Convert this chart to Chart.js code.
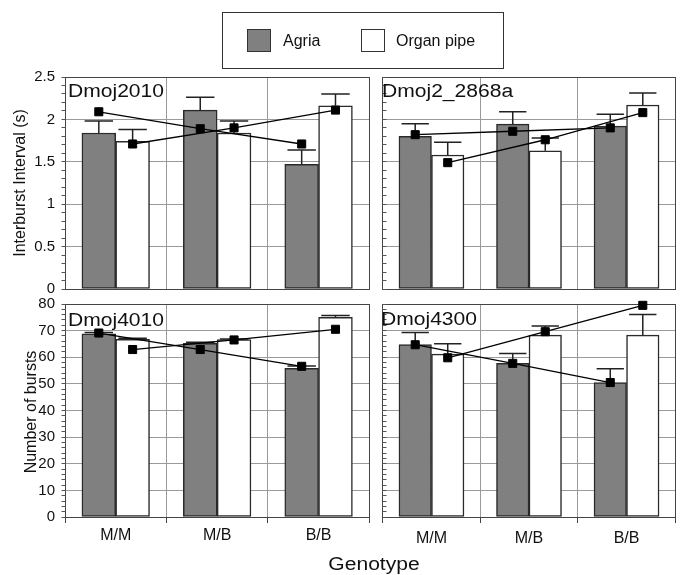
<!DOCTYPE html>
<html><head><meta charset="utf-8">
<script src="https://cdn.jsdelivr.net/npm/chart.js@4.4.1/dist/chart.umd.min.js"></script>
<style>
html,body{margin:0;padding:0;background:#fff;}
#wrap{position:relative;width:682px;height:575px;overflow:hidden;font-family:"Liberation Sans",Arial,sans-serif;color:#111;}
canvas{position:absolute;}
.t{position:absolute;white-space:nowrap;}
.rt{position:absolute;white-space:nowrap;font-size:16px;line-height:16px;transform:translate(-50%,-50%) rotate(-90deg);}
.pl{position:absolute;white-space:nowrap;font-size:18px;line-height:18px;transform-origin:0 0;transform:scaleX(1.17);}
</style></head><body>
<div id="wrap">
  <canvas id="c1" width="376" height="250" style="left:0;top:58px"></canvas>
  <canvas id="c2" width="306" height="250" style="left:376px;top:58px"></canvas>
  <canvas id="c3" width="376" height="290" style="left:0;top:285px"></canvas>
  <canvas id="c4" width="306" height="290" style="left:376px;top:285px"></canvas>

  <div style="position:absolute;left:222px;top:12px;width:282px;height:57px;box-sizing:border-box;border:1px solid #333;"></div>
  <div style="position:absolute;left:247px;top:29px;width:24px;height:23px;box-sizing:border-box;border:1px solid #333;background:#808080;"></div>
  <div style="position:absolute;left:361px;top:29px;width:24px;height:23px;box-sizing:border-box;border:1px solid #333;background:#fff;"></div>
  <div class="t" id="lg1" style="left:283px;top:33.2px;font-size:16px;line-height:16px;"></div>
  <div class="t" id="lg2" style="left:396px;top:33.2px;font-size:16px;line-height:16px;"></div>

  <div class="rt" style="left:20.4px;top:183px;">Interburst Interval (s)</div>
  <div class="rt" style="left:31.2px;top:412px;">Number of bursts</div>

  <div class="pl" id="p1" style="left:68px;top:82.1px;"></div>
  <div class="pl" id="p2" style="left:382px;top:82.1px;"></div>
  <div class="pl" id="p3" style="left:68px;top:310.8px;"></div>
  <div class="pl" id="p4" style="left:380.5px;top:309.8px;"></div>

  <div class="t" style="left:373.5px;top:554.8px;font-size:18px;line-height:18px;transform:translateX(-50%) scaleX(1.17);">Genotype</div>
</div>
<script>
// ---------- data ----------
const categories = ['M/M', 'M/B', 'B/B'];
const seriesNames = ['Agria', 'Organ pipe'];
const panelNames = ['Dmoj2010', 'Dmoj2_2868a', 'Dmoj4010', 'Dmoj4300'];
const ibiTicks = [0, 0.5, 1, 1.5, 2, 2.5];
const burstTicks = [0, 10, 20, 30, 40, 50, 60, 70, 80];

// Dmoj2010 (interburst interval, s)
const dmoj2010Agria    = [1.84, 2.11, 1.47];
const dmoj2010AgriaSE  = [0.14, 0.15, 0.17];
const dmoj2010Organ    = [1.74, 1.84, 2.16];
const dmoj2010OrganSE  = [0.14, 0.14, 0.14];
const dmoj2010AgriaPts = [2.09, 1.89, 1.71];
const dmoj2010OrganPts = [1.71, 1.90, 2.11];

// Dmoj2_2868a (interburst interval, s)
const dmoj2868Agria    = [1.80, 1.945, 1.92];
const dmoj2868AgriaSE  = [0.15, 0.145, 0.14];
const dmoj2868Organ    = [1.58, 1.63, 2.17];
const dmoj2868OrganSE  = [0.15, 0.15, 0.14];
const dmoj2868AgriaPts = [1.82, 1.86, 1.90];
const dmoj2868OrganPts = [1.49, 1.76, 2.08];

// Dmoj4010 (number of bursts)
const dmoj4010Agria    = [68.8, 65.2, 55.8];
const dmoj4010AgriaSE  = [0.5, 0.4, 0.9];
const dmoj4010Organ    = [66.7, 66.6, 75.0];
const dmoj4010OrganSE  = [0.4, 0.3, 0.7];
const dmoj4010AgriaPts = [69.1, 62.9, 56.6];
const dmoj4010OrganPts = [62.9, 66.5, 70.5];

// Dmoj4300 (number of bursts)
const dmoj4300Agria    = [64.8, 57.7, 50.5];
const dmoj4300AgriaSE  = [4.5, 3.7, 5.2];
const dmoj4300Organ    = [61.2, 68.3, 68.3];
const dmoj4300OrganSE  = [3.9, 3.4, 7.8];
const dmoj4300AgriaPts = [64.7, 57.7, 50.5];
const dmoj4300OrganPts = [59.8, 69.6, 79.5];

// ---------- styles ----------
const FONT = '"Liberation Sans", Arial, sans-serif';
const AGRIA = '#808080', EDGE = '#2a2a2a', GRID = '#9a9a9a', FRAME = '#444', ERR = '#222';
const SHIFT = 1 / 6; // half a bar, in category units

document.getElementById('lg1').textContent = seriesNames[0];
document.getElementById('lg2').textContent = seriesNames[1];
['p1','p2','p3','p4'].forEach((id, i) => document.getElementById(id).textContent = panelNames[i]);

function al(p) { return Math.round(p - 0.5) + 0.5; }

const framePlugin = {
  id: 'frame',
  beforeDatasetsDraw(chart, args, opts) {
    const { ctx, chartArea } = chart;
    const l = al(chartArea.left), r = al(chartArea.right), t = al(chartArea.top), b = al(chartArea.bottom);
    const ys = chart.scales.y;
    ctx.save();
    ctx.strokeStyle = FRAME;
    ctx.lineWidth = 1;
    ctx.strokeRect(l, t, r - l, b - t);
    ctx.strokeStyle = '#555';
    ctx.beginPath();
    const n = Math.round(ys.max / opts.minor);
    for (let k = 0; k <= n; k++) {
      const py = al(ys.getPixelForValue(k * opts.minor));
      if (opts.side < 0) { ctx.moveTo(l - 4, py); ctx.lineTo(l, py); }
      else { ctx.moveTo(l, py); ctx.lineTo(l + 4, py); }
    }
    ctx.stroke();
    ctx.restore();
  }
};

const errorPlugin = {
  id: 'errbars',
  afterDatasetDraw(chart, args) {
    const meta = args.meta;
    const ds = chart.data.datasets[args.index];
    if (meta.type !== 'bar' || !ds.errors) return;
    const { ctx } = chart;
    const ys = chart.scales[meta.yAxisID];
    ctx.save();
    ctx.strokeStyle = ERR;
    ctx.lineWidth = 1.5;
    meta.data.forEach((bar, i) => {
      const top = ys.getPixelForValue(ds.data[i].y + ds.errors[i]);
      const x = bar.x, cap = bar.width * 0.42;
      ctx.beginPath();
      ctx.moveTo(x, bar.y); ctx.lineTo(x, top);
      ctx.moveTo(x - cap, top); ctx.lineTo(x + cap, top);
      ctx.stroke();
    });
    ctx.restore();
  }
};

function pts(values, shift) { return values.map((v, i) => ({ x: i + shift, y: v })); }

function makePanel(id, p) {
  const lineStyle = {
    type: 'line', xAxisID: 'xv', yAxisID: 'y', borderColor: '#000', borderWidth: 1.3,
    pointStyle: 'rect', pointRadius: 5.7, pointBackgroundColor: '#000', pointBorderColor: '#000',
    pointBorderWidth: 1, order: 1, clip: false, tension: 0, fill: false
  };
  const barStyle = {
    type: 'bar', xAxisID: 'xv', yAxisID: 'y', borderColor: EDGE, borderWidth: 1.5, borderSkipped: false,
    grouped: false, categoryPercentage: 1, barPercentage: 1, order: 2
  };
  new Chart(document.getElementById(id), {
    type: 'bar',
    data: {
      labels: categories,
      datasets: [
        Object.assign({ label: seriesNames[0], data: pts(p.agria, -SHIFT), errors: p.agriaSE, backgroundColor: AGRIA }, barStyle),
        Object.assign({ label: seriesNames[1], data: pts(p.organ, SHIFT), errors: p.organSE, backgroundColor: '#fff' }, barStyle),
        Object.assign({ label: seriesNames[0], data: pts(p.agriaPts, -SHIFT) }, lineStyle),
        Object.assign({ label: seriesNames[1], data: pts(p.organPts, SHIFT) }, lineStyle)
      ]
    },
    options: {
      responsive: false, animation: false, events: [],
      layout: { padding: { top: 19, right: p.padRight, bottom: 0, left: 0 } },
      plugins: { legend: { display: false }, tooltip: { enabled: false }, frame: { minor: p.minor, side: p.side } },
      scales: {
        x: {
          type: 'category', offset: true, position: 'bottom',
          grid: { offset: true, color: GRID, lineWidth: 1, drawTicks: p.showX, tickLength: 6, tickColor: FRAME },
          border: { display: false },
          ticks: { display: p.showX, font: { size: 16, family: FONT }, color: '#111', padding: p.xPad, maxRotation: 0, autoSkip: false },
          afterFit: s => { s.height = p.xHeight; }
        },
        xv: {
          type: 'linear', display: false, offset: false, min: -0.5, max: 2.5, position: 'bottom',
          grid: { offset: false },
          afterBuildTicks: s => { s.ticks = [{ value: -0.5 }, { value: 2.5 }]; },
          afterFit: s => { s.height = 0; }
        },
        y: {
          type: 'linear', min: 0, max: p.yMax,
          afterBuildTicks: s => { s.ticks = p.yTicks.map(v => ({ value: v })); },
          grid: { color: GRID, lineWidth: 1, drawTicks: false },
          border: { display: false },
          ticks: { display: p.showY, font: { size: 15, family: FONT }, color: '#111', padding: 10,
                   callback: v => String(Math.round(v * 10) / 10) },
          afterFit: s => { s.width = p.yWidth; }
        }
      }
    },
    plugins: [framePlugin, errorPlugin]
  });
}

makePanel('c1', { agria: dmoj2010Agria, agriaSE: dmoj2010AgriaSE, organ: dmoj2010Organ, organSE: dmoj2010OrganSE,
  agriaPts: dmoj2010AgriaPts, organPts: dmoj2010OrganPts, yMax: 2.5, yTicks: ibiTicks, minor: 0.1, side: -1,
  showY: true, showX: false, yWidth: 65, xHeight: 19, padRight: 3, xPad: 3 });
makePanel('c2', { agria: dmoj2868Agria, agriaSE: dmoj2868AgriaSE, organ: dmoj2868Organ, organSE: dmoj2868OrganSE,
  agriaPts: dmoj2868AgriaPts, organPts: dmoj2868OrganPts, yMax: 2.5, yTicks: ibiTicks, minor: 0.1, side: 1,
  showY: false, showX: false, yWidth: 1, xHeight: 19, padRight: 1, xPad: 3 });
makePanel('c3', { agria: dmoj4010Agria, agriaSE: dmoj4010AgriaSE, organ: dmoj4010Organ, organSE: dmoj4010OrganSE,
  agriaPts: dmoj4010AgriaPts, organPts: dmoj4010OrganPts, yMax: 80, yTicks: burstTicks, minor: 2, side: -1,
  showY: true, showX: true, yWidth: 65, xHeight: 58, padRight: 3, xPad: 3 });
makePanel('c4', { agria: dmoj4300Agria, agriaSE: dmoj4300AgriaSE, organ: dmoj4300Organ, organSE: dmoj4300OrganSE,
  agriaPts: dmoj4300AgriaPts, organPts: dmoj4300OrganPts, yMax: 80, yTicks: burstTicks, minor: 2, side: 1,
  showY: false, showX: true, yWidth: 1, xHeight: 58, padRight: 1, xPad: 6 });
</script>
</body></html>
